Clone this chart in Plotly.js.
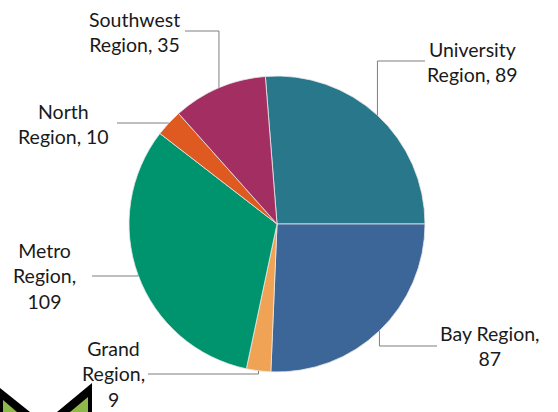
<!DOCTYPE html>
<html>
<head>
<meta charset="utf-8">
<script src="https://cdn.plot.ly/plotly-3.0.1.min.js"></script>
<style>html,body{margin:0;padding:0;background:#fff;}#chart{width:558px;height:412px;}</style>
</head>
<body>
<div id="chart"></div>
<script>
// ---- data ----
var regions = ["University Region", "Bay Region", "Grand Region", "Metro Region", "North Region", "Southwest Region"];
var counts = [89, 87, 9, 109, 10, 35];
var colors = ["#29778a", "#3c6598", "#f0a354", "#00946e", "#de5a20", "#a22e62"];
// label text as shown (line breaks)
var labelTexts = ["University<br>Region, 89", "Bay Region,<br>87", "Grand<br>Region,<br>9", "Metro<br>Region,<br>109", "North<br>Region, 10", "Southwest<br>Region, 35"];

// ---- layout geometry (pixels) ----
var W = 558, H = 412;
var cx = 277, cy = 224, R = 148;
// label centre positions and leader line end (x at label side, y of horizontal run)
var labelPos = [
  {x: 472, y: 62, lx: 425, ly: 61},
  {x: 490, y: 346, lx: 437, ly: 346},
  {x: 113, y: 374, lx: 148, ly: 374},
  {x: 44, y: 276, lx: 92, ly: 276},
  {x: 63, y: 124, lx: 117, ly: 123},
  {x: 134, y: 32, lx: 185, ly: 31}
];

function px(x){ return x / W; }
function py(y){ return 1 - y / H; }

var total = counts.reduce(function(a,b){return a+b;}, 0);
var rotation = 90 - counts[0] / total * 360;

var shapes = [];
var annotations = [];
var acc = rotation;
for (var i = 0; i < counts.length; i++) {
  var span = counts[i] / total * 360;
  var mid = (acc + span / 2) * Math.PI / 180;
  acc += span;
  var ax = cx + R * Math.sin(mid);
  var ay = cy - R * Math.cos(mid);
  var p = labelPos[i];
  var path = 'M' + px(ax) + ',' + py(ay) + ' L' + px(ax) + ',' + py(p.ly) + ' L' + px(p.lx) + ',' + py(p.ly);
  shapes.push({type: 'path', xref: 'paper', yref: 'paper', path: path, line: {color: '#7f7f7f', width: 1}});
  annotations.push({
    xref: 'paper', yref: 'paper', x: px(p.x), y: py(p.y),
    xanchor: 'center', yanchor: 'middle', showarrow: false,
    text: labelTexts[i], align: 'center',
    font: {family: 'Lato, "Open Sans", sans-serif', size: 19.5, color: '#1a1a1a'}
  });
}

// decorative logo fragment bottom-left
function poly(pts){
  return 'M' + pts.map(function(q){return px(q[0]) + ',' + py(q[1]);}).join(' L') + ' Z';
}
shapes.push({type:'path', xref:'paper', yref:'paper', path: poly([[0,388],[30,412],[0,412]]), fillcolor:'#000', line:{width:0}});
shapes.push({type:'path', xref:'paper', yref:'paper', path: poly([[3,400],[17,412],[3,412]]), fillcolor:'#8fb84a', line:{width:0}});
shapes.push({type:'path', xref:'paper', yref:'paper', path: poly([[92,383],[92,412],[57,412]]), fillcolor:'#000', line:{width:0}});
shapes.push({type:'path', xref:'paper', yref:'paper', path: poly([[88,397],[88,412],[70,412]]), fillcolor:'#8fb84a', line:{width:0}});

var trace = {
  type: 'pie',
  labels: regions,
  values: counts,
  sort: false,
  direction: 'clockwise',
  rotation: rotation,
  textinfo: 'none',
  hoverinfo: 'label+value',
  marker: {colors: colors, line: {color: '#e8e8e8', width: 0.8}},
  domain: {x: [px(cx - R), px(cx + R)], y: [py(cy + R), py(cy - R)]},
  showlegend: false
};

var layout = {
  width: W, height: H,
  margin: {l: 0, r: 0, t: 0, b: 0},
  paper_bgcolor: '#ffffff',
  showlegend: false,
  shapes: shapes,
  annotations: annotations
};

Plotly.newPlot('chart', [trace], layout, {displayModeBar: false, staticPlot: true});
</script>
</body>
</html>
